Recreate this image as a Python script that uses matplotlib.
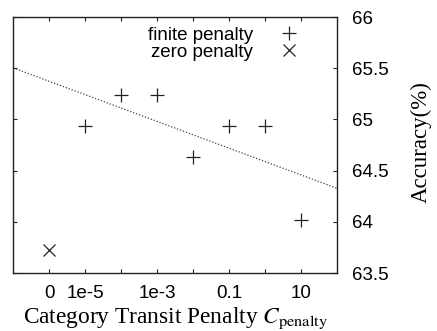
import numpy as np
import matplotlib
matplotlib.use("Agg")
import matplotlib.pyplot as plt

# Data
categories = ["0", "1e-5", "1e-4", "1e-3", "1e-2", "0.1", "1", "10"]
finite_acc = [64.94, 65.24, 65.24, 64.63, 64.94, 64.94, 64.02]  # 1e-5 .. 10
zero_acc = [63.72]
tick_labels = ["0", "1e-5", "", "1e-3", "", "0.1", "", "10"]
yticks = [63.5, 64, 64.5, 65, 65.5, 66]

plt.rcParams['mathtext.fontset'] = 'stix'

fig = plt.figure(figsize=(4.37, 3.31), dpi=100)
ax = fig.add_axes([13/437, 58/331, 324/437, 256/331])

pos = np.arange(len(categories))
fin_x = pos[1:]
ax.plot(fin_x, finite_acc, linestyle='none', marker='+', markersize=10,
        markeredgewidth=0.9, color='#222222', label='finite penalty')
ax.plot(pos[:1], zero_acc, linestyle='none', marker='x', markersize=8,
        markeredgewidth=0.9, color='#222222', label='zero penalty')

# linear fit of finite points
k, b = np.polyfit(fin_x, finite_acc, 1)
xl = np.array([-1, 8])
ax.plot(xl, k * xl + b, linestyle=(0, (1, 1.5)), color='#444444', linewidth=0.9)

ax.set_xlim(-1, 8)
ax.set_ylim(63.5, 66)
ax.set_xticks(pos)
ax.set_xticklabels(tick_labels, family='Liberation Sans', fontsize=13.5)
ax.set_yticks(yticks)
ax.set_yticklabels([f"{v:g}" for v in yticks], family='Liberation Sans', fontsize=13.5)
ax.yaxis.tick_right()
ax.tick_params(axis='both', which='both', direction='in', length=3, width=0.8,
               top=True, bottom=True, left=True, right=True, colors='#222222',
               labelcolor='black')
ax.tick_params(axis='y', pad=11)
ax.tick_params(axis='x', pad=9)
for s in ax.spines.values():
    s.set_linewidth(1.0)
    s.set_color('#222222')

ax.yaxis.set_label_position('right')
ax.set_ylabel("Accuracy(%)", family='Liberation Serif', fontsize=16.5)
ax.yaxis.set_label_coords(1.228, 0.512)
ax.set_xlabel(r"Category Transit Penalty $C_{\mathrm{penalty}}$", family='Liberation Serif',
              fontsize=16.8, labelpad=2.5)

leg = ax.legend(loc='upper right', frameon=False, markerfirst=False,
                prop={'family': 'Liberation Sans', 'size': 13.5},
                handletextpad=0.95, borderaxespad=0.1, labelspacing=0.0,
                bbox_to_anchor=(0.94, 1.0))
for t in leg.get_texts():
    t.set_ha('right')

fig.savefig("out.png", dpi=100)
